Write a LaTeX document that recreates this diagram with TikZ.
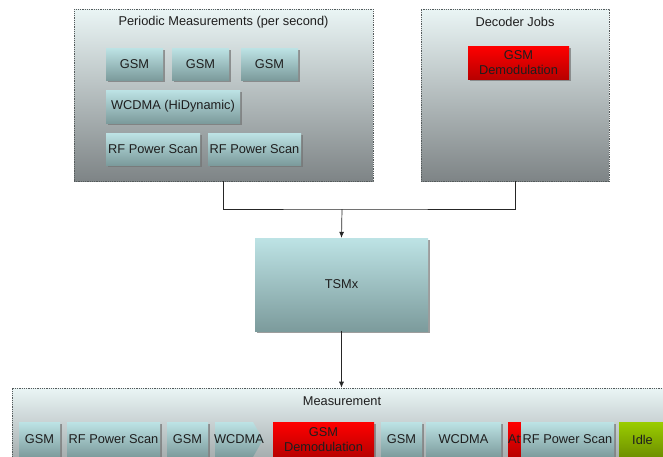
\documentclass[tikz,border=0pt]{standalone}
\usepackage{fontspec}
\setmainfont{Liberation Sans}
\usetikzlibrary{arrows.meta,shadows}
\definecolor{celltop}{HTML}{BDE3E5}
\definecolor{cellbot}{HTML}{7C9B9C}
\definecolor{ctrtop}{HTML}{EAF5F5}
\definecolor{ctrbot}{HTML}{7E8486}
\definecolor{redtop}{HTML}{FF0000}
\definecolor{redbot}{HTML}{B80000}
\definecolor{idletop}{HTML}{9ACD00}
\definecolor{idlebot}{HTML}{6E8F00}
\definecolor{edgec}{HTML}{555B5C}
\definecolor{txtc}{HTML}{1E1E1E}
\tikzset{
  ar/.style={-{Latex[length=6pt,width=5pt]},line width=0.7pt,black!85},
  ln/.style={line width=0.7pt,black!85},
  ctr/.style={draw=edgec,line width=0.6pt,dash pattern=on 1pt off 0.8pt,top color=ctrtop,bottom color=ctrbot,inner sep=0pt},
  shd/.style={drop shadow={shadow xshift=2pt,shadow yshift=-2pt,fill=black!55,opacity=0.7}},
  cell/.style={shd,top color=celltop,bottom color=cellbot,text=txtc,align=center,inner sep=0pt},
  redcell/.style={cell,top color=redtop,bottom color=redbot},
  idlecell/.style={cell,top color=idletop,bottom color=idlebot},
  ttl/.style={text=txtc,inner sep=0pt}
}

\begin{document}
\begin{tikzpicture}[x=1pt,y=-1pt,font=\fontsize{12.8}{15.5}\selectfont]
\useasboundingbox (0,0) rectangle (663,456);
\clip (0,0) rectangle (663,456);
% containers
\node[ctr,minimum width=299pt,minimum height=172pt] (periodic) at (223.5,95) {};
\node[ttl] (ptitle) at (223.5,22) {Periodic Measurements (per second)};
\node[ctr,minimum width=188pt,minimum height=172pt] (decoder) at (515,95) {};
\node[ttl] (dtitle) at (515,22) {Decoder Jobs};
\node[ctr,minimum width=658pt,minimum height=110pt] (meas) at (341,443) {};
\node[ttl] (mtitle) at (342,401) {Measurement};
% periodic jobs
\foreach \xc/\nm in {134.5/g1,200.5/g2,269.5/g3}
  \node[cell,minimum width=57pt,minimum height=32pt] (\nm) at (\xc,64) {GSM};
\node[cell,minimum width=134pt,minimum height=33pt] (wcd) at (173,106.5) {WCDMA (HiDynamic)};
\node[cell,minimum width=94pt,minimum height=32pt] (rf1) at (153,149) {RF Power Scan};
\node[cell,minimum width=93pt,minimum height=32pt] (rf2) at (254.5,149) {RF Power Scan};
\node[redcell,minimum width=101pt,minimum height=33pt] (demod) at (518.5,62.5) {GSM\\Demodulation};
% tsmx
\coordinate (join) at (342,209);
\node[cell,minimum width=173pt,minimum height=93pt] (tsmx) at (341.5,284.5) {TSMx};
\draw[ln] (periodic.south) |- (join) -| (decoder.south);
\draw[ar] (join) -- (tsmx.north);
\draw[ar] (tsmx.south) -- (tsmx.south |- meas.north);
% measurement row
\shade[top color=celltop,bottom color=cellbot] (215,422) -- (253,422) -- (263,439.5) -- (253,457) -- (215,457) -- cycle;
\node[ttl] (mw) at (239,439.5) {WCDMA};
\foreach \xa/\xb/\st/\txt [count=\i] in {19/60/cell/GSM,67/160/cell/RF Power Scan,167/208/cell/GSM,
    273/374/redcell/{GSM\\Demodulation},381/422/cell/GSM,426/501/cell/WCDMA,508/524/redcell/Att,
    521/614/cell/RF Power Scan,619/666/idlecell/Idle}
  \node[\st,minimum width={(\xb-\xa)*1pt},minimum height=35pt] (m\i) at ({(\xa+\xb)/2},439.5) {\txt};
\end{tikzpicture}
\end{document}
